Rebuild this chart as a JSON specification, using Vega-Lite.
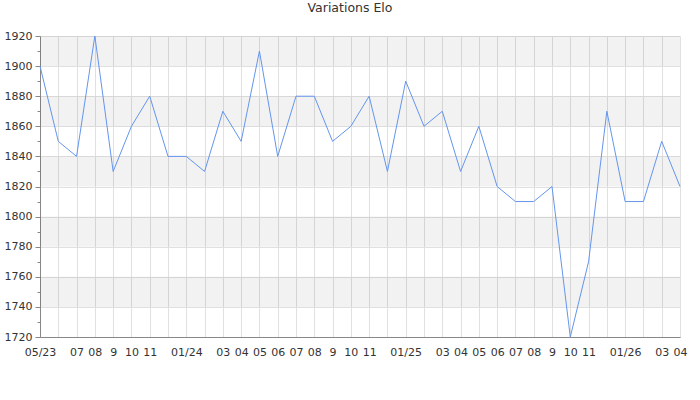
{
  "$schema": "https://vega.github.io/schema/vega-lite/v6.json",
  "width": 640,
  "height": 301,
  "autosize": "none",
  "padding": {"left": 40, "top": 36, "right": 20, "bottom": 63},
  "background": "white",
  "title": {"text": "Variations Elo", "fontSize": 12.5, "font": "DejaVu Sans", "fontWeight": "normal", "color": "#333333", "anchor": "middle", "dx": -10, "offset": 16},
  "config": {
    "view": {"stroke": null},
    "font": "DejaVu Sans",
    "axis": {"labelFont": "DejaVu Sans", "labelFontSize": 11, "labelColor": "#333333", "gridColor": "#e0e0e0", "gridWidth": 1, "domainColor": "#888888", "tickColor": "#888888", "title": null}
  },
  "datasets": {
    "bands": [
      {"lo": 1900, "hi": 1920},
      {"lo": 1860, "hi": 1880},
      {"lo": 1820, "hi": 1840},
      {"lo": 1780, "hi": 1800},
      {"lo": 1740, "hi": 1760}
    ],
    "elo": [
      {"month": "2023-05", "elo": 1900},
      {"month": "2023-06", "elo": 1850},
      {"month": "2023-07", "elo": 1840},
      {"month": "2023-08", "elo": 1920},
      {"month": "2023-09", "elo": 1830},
      {"month": "2023-10", "elo": 1860},
      {"month": "2023-11", "elo": 1880},
      {"month": "2023-12", "elo": 1840},
      {"month": "2024-01", "elo": 1840},
      {"month": "2024-02", "elo": 1830},
      {"month": "2024-03", "elo": 1870},
      {"month": "2024-04", "elo": 1850},
      {"month": "2024-05", "elo": 1910},
      {"month": "2024-06", "elo": 1840},
      {"month": "2024-07", "elo": 1880},
      {"month": "2024-08", "elo": 1880},
      {"month": "2024-09", "elo": 1850},
      {"month": "2024-10", "elo": 1860},
      {"month": "2024-11", "elo": 1880},
      {"month": "2024-12", "elo": 1830},
      {"month": "2025-01", "elo": 1890},
      {"month": "2025-02", "elo": 1860},
      {"month": "2025-03", "elo": 1870},
      {"month": "2025-04", "elo": 1830},
      {"month": "2025-05", "elo": 1860},
      {"month": "2025-06", "elo": 1820},
      {"month": "2025-07", "elo": 1810},
      {"month": "2025-08", "elo": 1810},
      {"month": "2025-09", "elo": 1820},
      {"month": "2025-10", "elo": 1720},
      {"month": "2025-11", "elo": 1770},
      {"month": "2025-12", "elo": 1870},
      {"month": "2026-01", "elo": 1810},
      {"month": "2026-02", "elo": 1810},
      {"month": "2026-03", "elo": 1850},
      {"month": "2026-04", "elo": 1820}
    ]
  },
  "layer": [
    {
      "data": {"name": "bands"},
      "mark": {"type": "rect", "color": "#000000", "opacity": 0.05},
      "encoding": {
        "y": {
          "field": "lo", "type": "quantitative",
          "scale": {"domain": [1720, 1920], "nice": false, "zero": false},
          "axis": {
            "title": null,
            "values": [1720, 1730, 1740, 1750, 1760, 1770, 1780, 1790, 1800, 1810, 1820, 1830, 1840, 1850, 1860, 1870, 1880, 1890, 1900, 1910, 1920],
            "labelExpr": "datum.value % 20 == 0 ? datum.label : ''",
            "labelOverlap": false,
            "tickSize": {"condition": {"test": "datum.value % 20 == 0", "value": 5}, "value": 3},
            "gridOpacity": {"condition": {"test": "datum.value % 20 == 0", "value": 1}, "value": 0},
            "labelPadding": 3,
            "labelFlush": false,
            "format": "d"
          }
        },
        "y2": {"field": "hi"}
      }
    },
    {
      "data": {"name": "elo"},
      "mark": {"type": "line", "color": "#6495ed", "strokeWidth": 1},
      "encoding": {
        "x": {
          "field": "month", "type": "ordinal", "sort": null,
          "scale": {"type": "point", "padding": 0},
          "axis": {
            "title": null, "ticks": false, "grid": true, "labelAngle": 0, "labelPadding": 9, "labelOverlap": false,
            "labelExpr": "(datum.value == '2023-05' || substring(datum.value,5,7) == '01') ? substring(datum.value,5,7) + '/' + substring(datum.value,2,4) : (datum.value == '2023-06' || substring(datum.value,5,7) == '12' || substring(datum.value,5,7) == '02') ? '' : (substring(datum.value,5,7) == '09' ? '9' : substring(datum.value,5,7))"
          }
        },
        "y": {
          "field": "elo", "type": "quantitative",
          "scale": {"domain": [1720, 1920], "nice": false, "zero": false},
          "axis": {
            "title": null,
            "values": [1720, 1730, 1740, 1750, 1760, 1770, 1780, 1790, 1800, 1810, 1820, 1830, 1840, 1850, 1860, 1870, 1880, 1890, 1900, 1910, 1920],
            "labelExpr": "datum.value % 20 == 0 ? datum.label : ''",
            "labelOverlap": false,
            "tickSize": {"condition": {"test": "datum.value % 20 == 0", "value": 5}, "value": 3},
            "gridOpacity": {"condition": {"test": "datum.value % 20 == 0", "value": 1}, "value": 0},
            "labelPadding": 3,
            "labelFlush": false,
            "format": "d"
          }
        }
      }
    }
  ]
}
